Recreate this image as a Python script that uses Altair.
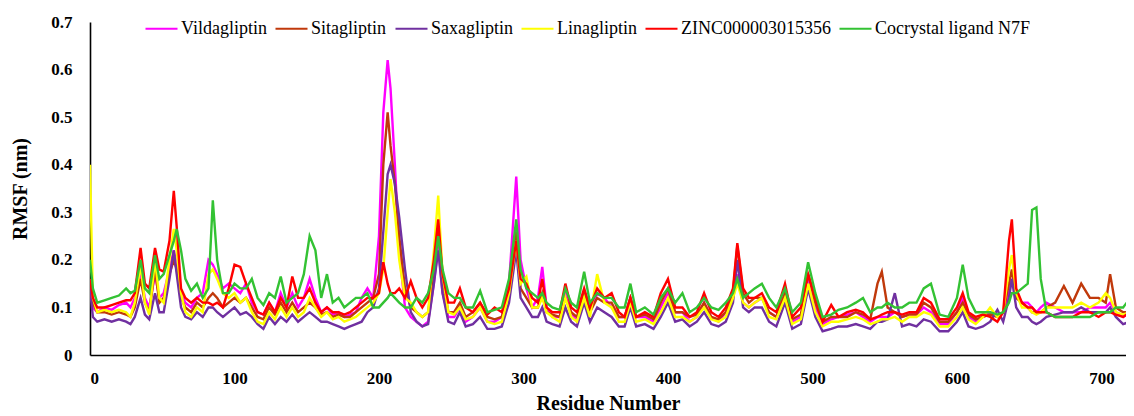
import altair as alt
import pandas as pd

series_names = ["Vildagliptin", "Sitagliptin", "Saxagliptin", "Linagliptin",
                "ZINC000003015356", "Cocrystal ligand N7F"]
series_colors = ["#FF00FF", "#C0390B", "#7030A0", "#FFFF00", "#FF0000", "#33C233"]

residues = [0,2,5,10,15,20,25,28,31,35,
            38,41,45,48,51,55,58,60,63,66,
            70,74,78,82,85,88,92,96,100,104,
            108,112,116,120,124,128,132,136,140,144,
            148,152,156,160,164,168,172,176,180,184,
            188,192,196,200,203,206,208,211,214,218,
            222,226,230,234,238,241,244,248,252,256,
            260,265,270,275,280,285,290,295,298,302,
            306,310,313,316,320,325,329,333,337,342,
            346,351,356,361,366,370,374,378,384,390,
            395,400,405,410,415,420,425,430,435,440,
            445,448,452,456,460,465,470,475,481,486,
            492,497,502,507,513,518,524,530,535,540,
            545,548,552,557,562,567,572,577,582,588,
            594,600,604,608,613,618,623,628,632,636,
            638,641,645,649,652,655,658,662,668,674,
            680,686,692,698,703,706,710,715,720]

vildagliptin = [0.15,0.10,0.09,0.10,0.095,0.105,0.11,0.10,0.12,0.17,
                0.12,0.10,0.17,0.12,0.13,0.18,0.22,0.19,0.13,0.11,
                0.10,0.12,0.13,0.20,0.19,0.17,0.14,0.15,0.14,0.13,
                0.15,0.11,0.09,0.085,0.11,0.09,0.13,0.10,0.13,0.10,
                0.12,0.16,0.12,0.09,0.10,0.085,0.09,0.08,0.085,0.09,
                0.12,0.14,0.12,0.25,0.51,0.62,0.56,0.40,0.22,0.10,
                0.08,0.07,0.06,0.07,0.15,0.23,0.13,0.08,0.08,0.10,
                0.07,0.08,0.10,0.07,0.07,0.08,0.15,0.375,0.20,0.14,
                0.10,0.12,0.185,0.10,0.08,0.08,0.13,0.09,0.07,0.13,
                0.09,0.13,0.12,0.10,0.08,0.08,0.12,0.08,0.08,0.07,
                0.10,0.13,0.09,0.09,0.07,0.08,0.11,0.08,0.07,0.09,
                0.12,0.17,0.11,0.10,0.11,0.12,0.09,0.08,0.13,0.07,
                0.08,0.16,0.10,0.065,0.075,0.08,0.085,0.09,0.08,0.07,
                0.08,0.08,0.08,0.09,0.08,0.085,0.085,0.10,0.09,0.065,
                0.065,0.09,0.12,0.08,0.07,0.08,0.09,0.08,0.09,0.13,
                0.16,0.12,0.11,0.11,0.10,0.09,0.10,0.11,0.10,0.09,
                0.09,0.09,0.10,0.10,0.10,0.11,0.09,0.08,0.09]

sitagliptin = [0.16,0.11,0.09,0.09,0.085,0.09,0.085,0.08,0.10,0.16,
               0.11,0.09,0.18,0.11,0.12,0.17,0.20,0.18,0.12,0.10,
               0.09,0.11,0.10,0.12,0.13,0.12,0.10,0.11,0.12,0.11,
               0.12,0.10,0.08,0.075,0.10,0.085,0.11,0.09,0.11,0.09,
               0.10,0.11,0.10,0.085,0.09,0.08,0.085,0.08,0.08,0.09,
               0.10,0.11,0.12,0.17,0.40,0.51,0.44,0.36,0.25,0.14,
               0.10,0.09,0.08,0.09,0.18,0.27,0.16,0.09,0.09,0.11,
               0.08,0.09,0.11,0.08,0.075,0.08,0.13,0.26,0.14,0.12,
               0.10,0.10,0.13,0.09,0.085,0.08,0.12,0.09,0.08,0.13,
               0.09,0.12,0.11,0.11,0.08,0.08,0.12,0.08,0.085,0.075,
               0.11,0.14,0.09,0.09,0.08,0.085,0.11,0.08,0.075,0.09,
               0.13,0.23,0.13,0.11,0.12,0.12,0.09,0.08,0.13,0.075,
               0.085,0.17,0.11,0.07,0.08,0.08,0.08,0.09,0.085,0.075,
               0.15,0.175,0.10,0.09,0.08,0.085,0.085,0.11,0.10,0.07,
               0.07,0.09,0.11,0.085,0.075,0.08,0.085,0.08,0.09,0.15,
               0.18,0.12,0.11,0.10,0.09,0.09,0.09,0.10,0.11,0.145,
               0.11,0.15,0.12,0.12,0.11,0.17,0.10,0.09,0.09]

saxagliptin = [0.14,0.08,0.07,0.075,0.07,0.075,0.07,0.065,0.08,0.12,
               0.085,0.075,0.13,0.09,0.09,0.16,0.22,0.17,0.10,0.08,
               0.075,0.09,0.08,0.10,0.10,0.09,0.08,0.09,0.10,0.085,
               0.09,0.08,0.065,0.055,0.08,0.065,0.08,0.07,0.085,0.07,
               0.08,0.09,0.08,0.07,0.07,0.065,0.06,0.055,0.06,0.065,
               0.07,0.09,0.10,0.14,0.26,0.38,0.40,0.36,0.29,0.18,
               0.09,0.07,0.06,0.065,0.15,0.22,0.13,0.07,0.065,0.09,
               0.06,0.065,0.08,0.055,0.055,0.06,0.11,0.22,0.12,0.10,
               0.08,0.08,0.10,0.07,0.065,0.06,0.10,0.07,0.06,0.11,
               0.07,0.10,0.09,0.08,0.06,0.06,0.10,0.06,0.065,0.055,
               0.08,0.11,0.07,0.075,0.06,0.07,0.09,0.065,0.06,0.07,
               0.11,0.20,0.10,0.09,0.10,0.10,0.07,0.06,0.11,0.055,
               0.065,0.14,0.08,0.05,0.055,0.06,0.06,0.065,0.06,0.055,
               0.07,0.07,0.075,0.13,0.06,0.065,0.06,0.075,0.07,0.05,
               0.05,0.07,0.09,0.06,0.055,0.06,0.07,0.095,0.07,0.12,
               0.16,0.10,0.08,0.08,0.07,0.065,0.07,0.08,0.085,0.09,
               0.09,0.10,0.09,0.09,0.09,0.10,0.08,0.065,0.07]

linagliptin = [0.40,0.12,0.09,0.095,0.09,0.095,0.09,0.08,0.11,0.19,
               0.11,0.085,0.20,0.12,0.11,0.20,0.265,0.22,0.13,0.09,
               0.08,0.10,0.09,0.17,0.18,0.16,0.13,0.12,0.13,0.11,
               0.12,0.09,0.07,0.065,0.09,0.075,0.10,0.08,0.10,0.08,
               0.09,0.12,0.10,0.08,0.09,0.075,0.08,0.07,0.075,0.08,
               0.09,0.10,0.11,0.13,0.18,0.30,0.37,0.30,0.20,0.12,
               0.11,0.09,0.08,0.09,0.22,0.335,0.17,0.09,0.085,0.10,
               0.075,0.08,0.10,0.07,0.065,0.07,0.13,0.24,0.15,0.165,
               0.10,0.10,0.12,0.09,0.08,0.07,0.12,0.08,0.07,0.12,
               0.08,0.17,0.11,0.10,0.07,0.07,0.11,0.07,0.075,0.065,
               0.09,0.12,0.08,0.08,0.07,0.08,0.10,0.075,0.07,0.08,
               0.12,0.15,0.11,0.10,0.11,0.12,0.08,0.075,0.12,0.065,
               0.075,0.15,0.09,0.06,0.07,0.07,0.075,0.08,0.075,0.065,
               0.07,0.075,0.075,0.08,0.07,0.08,0.08,0.09,0.085,0.06,
               0.06,0.08,0.10,0.075,0.065,0.08,0.10,0.08,0.09,0.18,
               0.21,0.13,0.10,0.10,0.09,0.085,0.09,0.10,0.10,0.10,
               0.10,0.11,0.10,0.11,0.13,0.12,0.09,0.085,0.09]

zinc = [0.16,0.12,0.10,0.10,0.105,0.11,0.115,0.115,0.13,0.225,
        0.15,0.14,0.225,0.18,0.175,0.24,0.345,0.27,0.14,0.12,
        0.11,0.12,0.11,0.11,0.105,0.11,0.10,0.14,0.19,0.185,
        0.15,0.12,0.09,0.085,0.11,0.09,0.12,0.10,0.165,0.12,
        0.12,0.14,0.11,0.09,0.10,0.09,0.09,0.085,0.09,0.10,
        0.11,0.12,0.12,0.13,0.195,0.15,0.13,0.13,0.14,0.12,
        0.155,0.12,0.10,0.12,0.20,0.285,0.17,0.11,0.11,0.14,
        0.10,0.09,0.11,0.085,0.10,0.09,0.14,0.24,0.16,0.15,
        0.12,0.11,0.16,0.10,0.09,0.09,0.15,0.10,0.09,0.14,
        0.10,0.14,0.12,0.13,0.09,0.08,0.12,0.08,0.09,0.08,
        0.13,0.16,0.10,0.10,0.08,0.09,0.13,0.09,0.08,0.10,
        0.14,0.235,0.14,0.12,0.12,0.13,0.10,0.09,0.15,0.08,
        0.10,0.17,0.12,0.07,0.105,0.08,0.09,0.095,0.09,0.075,
        0.08,0.085,0.09,0.09,0.085,0.09,0.09,0.12,0.11,0.075,
        0.075,0.10,0.13,0.09,0.08,0.085,0.08,0.07,0.09,0.24,
        0.285,0.14,0.11,0.10,0.10,0.09,0.09,0.09,0.08,0.08,
        0.08,0.09,0.09,0.08,0.09,0.09,0.085,0.08,0.09]

cocrystal = [0.20,0.14,0.11,0.115,0.12,0.125,0.14,0.13,0.135,0.20,
             0.14,0.13,0.21,0.16,0.17,0.21,0.24,0.265,0.22,0.16,
             0.135,0.15,0.12,0.14,0.325,0.20,0.13,0.13,0.15,0.14,
             0.14,0.16,0.12,0.105,0.13,0.12,0.165,0.11,0.12,0.13,
             0.17,0.25,0.22,0.12,0.17,0.11,0.12,0.10,0.11,0.12,
             0.12,0.13,0.10,0.10,0.11,0.12,0.13,0.12,0.11,0.10,
             0.10,0.12,0.11,0.13,0.18,0.25,0.18,0.13,0.12,0.12,
             0.10,0.10,0.135,0.09,0.095,0.10,0.16,0.285,0.18,0.14,
             0.13,0.12,0.13,0.11,0.10,0.095,0.14,0.11,0.10,0.175,
             0.11,0.13,0.12,0.12,0.10,0.10,0.15,0.09,0.10,0.085,
             0.12,0.14,0.11,0.13,0.09,0.10,0.12,0.10,0.095,0.11,
             0.13,0.16,0.12,0.13,0.14,0.15,0.12,0.10,0.14,0.09,
             0.11,0.195,0.13,0.08,0.085,0.095,0.10,0.11,0.12,0.09,
             0.10,0.10,0.11,0.10,0.10,0.11,0.11,0.14,0.15,0.085,
             0.08,0.12,0.19,0.12,0.09,0.09,0.09,0.085,0.09,0.11,
             0.13,0.13,0.14,0.15,0.305,0.31,0.16,0.09,0.08,0.08,
             0.08,0.08,0.08,0.09,0.09,0.09,0.10,0.10,0.12]

all_values = [vildagliptin, sitagliptin, saxagliptin, linagliptin, zinc, cocrystal]
for vals in all_values:
    assert len(vals) == len(residues), (len(vals), len(residues))

rows = []
for name, vals in zip(series_names, all_values):
    for r, v in zip(residues, vals):
        rows.append({"series": name, "residue": r, "rmsf": v})
df = pd.DataFrame(rows)

FONT = "Liberation Serif"

color_enc = alt.Color(
    "series:N",
    scale=alt.Scale(domain=series_names, range=series_colors),
    legend=alt.Legend(
        title=None, orient="none", direction="horizontal", columns=6,
        legendX=54, legendY=-11, symbolType="stroke", symbolSize=1024,
        symbolStrokeWidth=2.2, labelFont=FONT, labelFontSize=18,
        labelColor="black", labelOffset=2, columnPadding=4, padding=0,
        labelLimit=400,
    ),
)

x_enc = alt.X(
    "residue:Q",
    scale=alt.Scale(domain=[0, 717], nice=False, zero=False),
    axis=alt.Axis(values=[0, 100, 200, 300, 400, 500, 600, 700], format="d",
                  title="Residue Number", labelPadding=15, titlePadding=7),
)
y_enc = alt.Y(
    "rmsf:Q",
    scale=alt.Scale(domain=[0, 0.7], nice=False),
    axis=alt.Axis(values=[0, 0.1, 0.2, 0.3, 0.4, 0.5, 0.6, 0.7],
                  labelExpr="datum.value == 0 ? '0' : format(datum.value, '.1f')",
                  title="RMSF (nm)", labelPadding=18, titlePadding=20),
)

layers = []
for name in series_names:
    layers.append(
        alt.Chart(df)
        .transform_filter(alt.datum.series == name)
        .mark_line(strokeWidth=2.4, clip=True)
        .encode(x=x_enc, y=y_enc, color=color_enc, order="residue:Q")
    )

chart = (
    alt.layer(*layers)
    .properties(width=1036, height=333,
                autosize=alt.AutoSizeParams(type="none"),
                padding={"left": 82, "top": 14, "right": 0, "bottom": 60})
    .configure_view(stroke=None)
    .configure_axis(
        domainColor="black", domainWidth=1.6, ticks=False, tickSize=0, grid=False,
        labelFont=FONT, labelFontWeight="bold", labelFontSize=17, labelColor="black",
        titleFont=FONT, titleFontWeight="bold", titleFontSize=20, titleColor="black",
    )
)

chart.save("out.html", embed_options={"renderer": "svg", "actions": False})
